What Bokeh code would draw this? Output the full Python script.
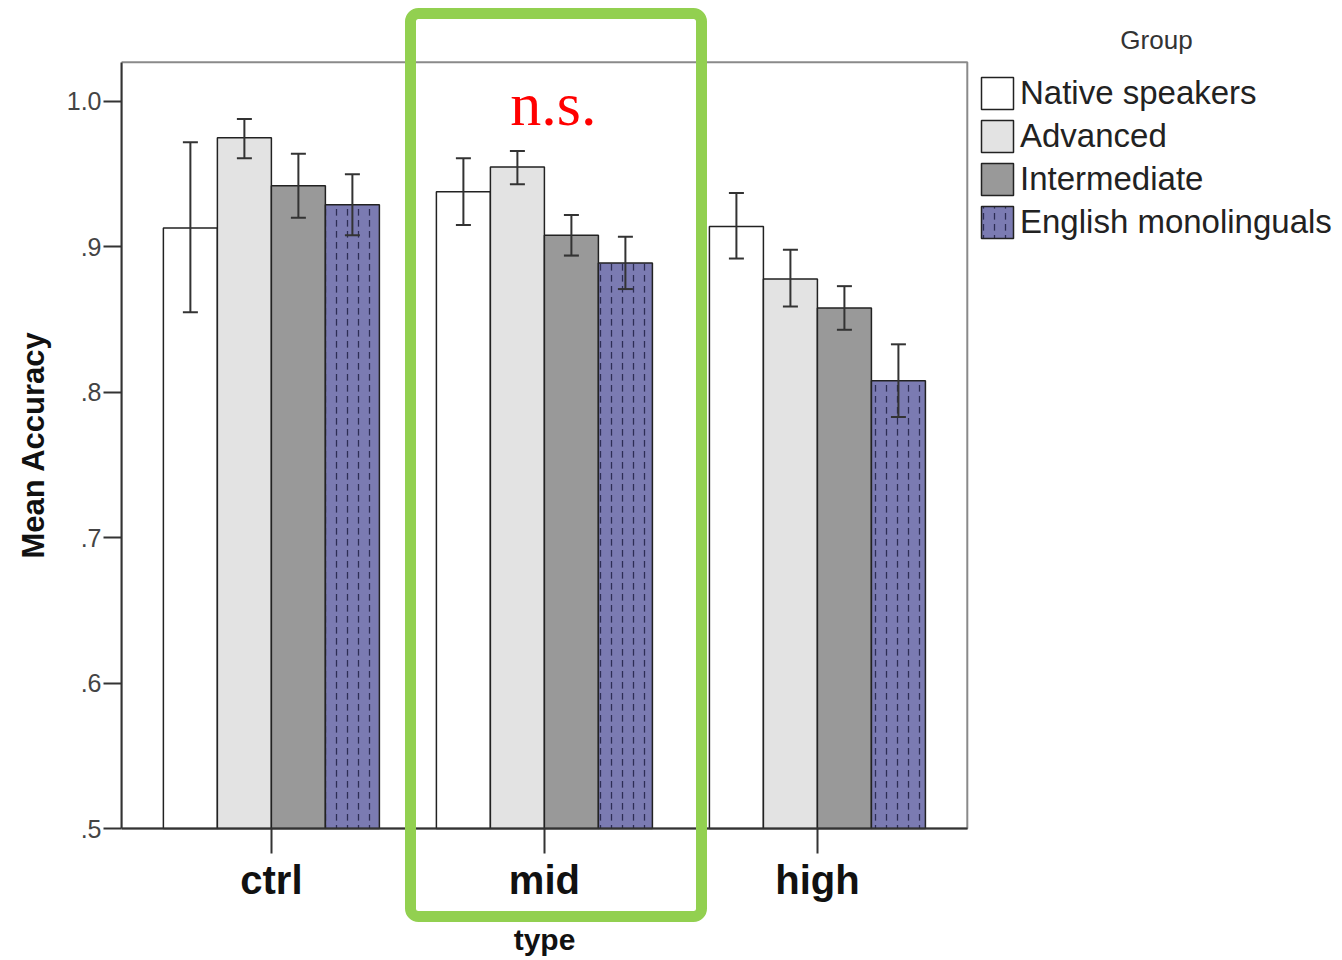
from bokeh.plotting import figure
from bokeh.models import (ColumnDataSource, Whisker, TeeHead, Legend, LegendItem,
                          BoxAnnotation, Label, FixedTicker, Range1d, Title)
from bokeh.embed import file_html
from bokeh.resources import INLINE

types = ["ctrl", "mid", "high"]
groups = ["Native speakers", "Advanced", "Intermediate", "English monolinguals"]

native_mean = [0.913, 0.938, 0.914]
native_hi = [0.972, 0.961, 0.937]
native_lo = [0.855, 0.915, 0.892]

advanced_mean = [0.975, 0.955, 0.878]
advanced_hi = [0.988, 0.966, 0.898]
advanced_lo = [0.961, 0.943, 0.859]

intermediate_mean = [0.942, 0.908, 0.858]
intermediate_hi = [0.964, 0.922, 0.873]
intermediate_lo = [0.920, 0.894, 0.843]

english_mean = [0.929, 0.889, 0.808]
english_hi = [0.950, 0.907, 0.833]
english_lo = [0.908, 0.871, 0.783]

y_ticks = [0.5, 0.6, 0.7, 0.8, 0.9, 1.0]
y_tick_labels = [".5", ".6", ".7", ".8", ".9", "1.0"]

FONT = "Liberation Sans"

# plot area (data window) limits
X_LO, X_HI = 0.451, 3.549
Y_LO, Y_HI = 0.5, 1.027

p = figure(frame_width=1213, frame_height=960,
           min_border_left=121, min_border_right=0, min_border_top=0, min_border_bottom=0,
           x_range=Range1d(X_LO, 4.894), y_range=Range1d(0.40922, 1.06946),
           output_backend="svg", toolbar_location=None)
p.background_fill_color = "white"
p.border_fill_color = "white"
p.outline_line_color = None
p.xgrid.visible = False
p.ygrid.visible = False

# grey frame of the plot area
p.add_layout(BoxAnnotation(left=X_LO, right=X_HI, bottom=Y_LO, top=Y_HI,
                           fill_alpha=0, line_color="#8a8a8a", line_alpha=1, line_width=2,
                           level="underlay"))

bar_w = 0.1978
fills = ["#ffffff", "#e3e3e3", "#999999", "#7b7bb2"]
series = [(native_mean, native_hi, native_lo),
          (advanced_mean, advanced_hi, advanced_lo),
          (intermediate_mean, intermediate_hi, intermediate_lo),
          (english_mean, english_hi, english_lo)]

items = []
for i, (name, (m, hi, lo)) in enumerate(zip(groups, series)):
    xs = [j + 1 + (i - 1.5) * bar_w for j in range(len(types))]
    src = ColumnDataSource(dict(x=xs, top=m, hi=hi, lo=lo))
    kw = {}
    if i == 3:
        kw = dict(hatch_pattern="vertical_dash", hatch_scale=11, hatch_color="#2d2d55",
                  hatch_weight=1.3)
    r = p.vbar(x="x", top="top", bottom=Y_LO, width=bar_w, source=src,
               fill_color=fills[i], line_color="#222222", line_width=1.5, **kw)
    items.append(LegendItem(label=name, renderers=[r]))
    wh = Whisker(base="x", upper="hi", lower="lo", source=src,
                 line_color="#333333", line_width=2, level="annotation",
                 upper_head=TeeHead(size=15, line_color="#333333", line_width=2),
                 lower_head=TeeHead(size=15, line_color="#333333", line_width=2))
    p.add_layout(wh)

# axes
p.yaxis.bounds = (Y_LO, Y_HI)
p.yaxis.ticker = FixedTicker(ticks=y_ticks)
p.yaxis.major_label_overrides = dict(zip(y_ticks, y_tick_labels))
p.yaxis.minor_tick_line_color = None
p.yaxis.major_tick_in = 0
p.yaxis.major_tick_out = 18
p.yaxis.major_tick_line_width = 2
p.yaxis.major_tick_line_color = "#333333"
p.yaxis.axis_line_width = 2
p.yaxis.axis_line_color = "#333333"
p.yaxis.major_label_text_font = FONT
p.yaxis.major_label_text_font_size = "25px"
p.yaxis.major_label_text_color = "#444444"
p.yaxis.major_label_standoff = 2

# y-axis title, centred on the plot area rather than on the whole frame
p.add_layout(Title(text="Mean Accuracy", align="left", offset=402, standoff=25,
                   text_font=FONT, text_font_style="bold", text_font_size="31px",
                   text_color="#111111"), "left")

x_ticks = [1, 2, 3]
p.xaxis.fixed_location = Y_LO
p.xaxis.bounds = (X_LO, X_HI)
p.xaxis.ticker = FixedTicker(ticks=x_ticks)
p.xaxis.major_label_overrides = dict(zip(x_ticks, types))
p.xaxis.minor_tick_line_color = None
p.xaxis.major_tick_in = 0
p.xaxis.major_tick_out = 25
p.xaxis.major_tick_line_width = 2
p.xaxis.major_tick_line_color = "#333333"
p.xaxis.axis_line_width = 2
p.xaxis.axis_line_color = "#333333"
p.xaxis.major_label_text_font = FONT
p.xaxis.major_label_text_font_style = "bold"
p.xaxis.major_label_text_font_size = "40px"
p.xaxis.major_label_text_color = "#111111"
p.xaxis.major_label_standoff = 4
p.xaxis.axis_label = "type"
p.xaxis.axis_label_text_font = FONT
p.xaxis.axis_label_text_font_style = "bold"
p.xaxis.axis_label_text_font_size = "30px"
p.xaxis.axis_label_text_color = "#111111"
p.xaxis.axis_label_standoff = 18

legend = Legend(items=items, location=(856, 718),
                label_text_font=FONT, label_text_font_size="33px", label_text_color="#222222",
                glyph_width=40, glyph_height=40, label_height=40, spacing=3,
                label_standoff=3, padding=0, margin=0,
                border_line_color=None, background_fill_alpha=0)
p.add_layout(legend)

p.add_layout(Label(x=4.242, y=1.042, text="Group", text_align="center", text_baseline="middle",
                   text_font=FONT, text_font_size="26px", text_color="#333333"))

ns = Label(x=2.033, y=0.9986, text="n.s.", text_align="center", text_baseline="middle",
           text_font="Liberation Serif", text_font_size="62px", text_color="#ff0000")
p.add_layout(ns)

box = BoxAnnotation(left=410, right=701, top=13, bottom=916,
                    left_units="canvas", right_units="canvas", top_units="canvas", bottom_units="canvas",
                    fill_alpha=0, line_color="#92d050", line_alpha=1, line_width=11,
                    border_radius=8, level="overlay")
p.add_layout(box)

open("out.html", "w").write(file_html(p, INLINE))
